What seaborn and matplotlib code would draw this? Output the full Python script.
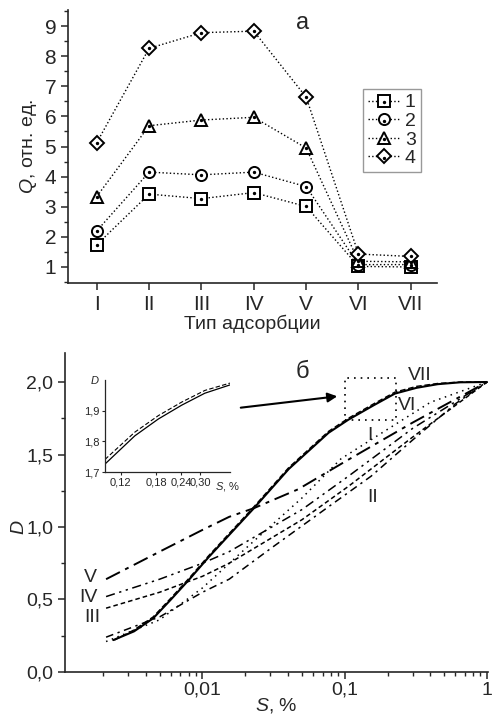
import numpy as np
import pandas as pd
import matplotlib
matplotlib.use("Agg")
import matplotlib.pyplot as plt
import seaborn as sns
from matplotlib.ticker import FuncFormatter, MultipleLocator, LogLocator, NullFormatter
from matplotlib.legend_handler import HandlerTuple
from matplotlib.patches import Rectangle

# ---- panel a: Q by adsorption type ----
types = ["I", "II", "III", "IV", "V", "VI", "VII"]
q1 = [1.74, 3.42, 3.27, 3.47, 3.01, 1.02, 1.00]
q2 = [2.20, 4.15, 4.06, 4.15, 3.67, 1.08, 1.08]
q3 = [3.34, 5.69, 5.88, 5.97, 4.95, 1.19, 1.17]
q4 = [5.13, 8.26, 8.78, 8.83, 6.64, 1.43, 1.35]
q_series = {"1": q1, "2": q2, "3": q3, "4": q4}
q_markers = {"1": "s", "2": "o", "3": "^", "4": "D"}

# ---- panel b: D vs S curves ----
s_vii = [0.00236, 0.0033, 0.0045, 0.006, 0.0081, 0.011, 0.0149, 0.023, 0.0404,
         0.077, 0.106, 0.16, 0.225, 0.32, 0.45, 0.65, 1.0]
d_vii = [0.22, 0.28, 0.37, 0.50, 0.64, 0.79, 0.93, 1.13, 1.40,
         1.65, 1.74, 1.84, 1.92, 1.96, 1.985, 1.998, 2.0]
s_vi = [0.0024, 0.0033, 0.0045, 0.006, 0.0081, 0.011, 0.0149, 0.023, 0.0404,
        0.077, 0.106, 0.16, 0.225, 0.32, 0.45, 0.65, 1.0]
d_vi = [0.22, 0.29, 0.38, 0.51, 0.65, 0.80, 0.94, 1.14, 1.41,
        1.66, 1.75, 1.85, 1.93, 1.97, 1.99, 2.0, 2.0]
s_v = [0.0021, 0.005, 0.01, 0.0154, 0.023, 0.047, 0.1, 0.3, 1.0]
d_v = [0.64, 0.83, 0.98, 1.07, 1.13, 1.26, 1.45, 1.72, 2.0]
s_iv = [0.0021, 0.005, 0.01, 0.0154, 0.05, 0.106, 0.3, 1.0]
d_iv = [0.52, 0.64, 0.75, 0.83, 1.12, 1.35, 1.68, 2.0]
s_iii = [0.0021, 0.005, 0.01, 0.0154, 0.05, 0.106, 0.3, 1.0]
d_iii = [0.44, 0.55, 0.66, 0.75, 1.05, 1.28, 1.62, 2.0]
s_ii = [0.0021, 0.005, 0.01, 0.0154, 0.03, 0.077, 0.153, 0.3, 0.6, 1.0]
d_ii = [0.24, 0.38, 0.55, 0.64, 0.85, 1.14, 1.35, 1.60, 1.85, 2.0]
s_i = [0.0021, 0.005, 0.01, 0.02, 0.05, 0.094, 0.19, 0.4, 1.0]
d_i = [0.21, 0.36, 0.58, 0.85, 1.20, 1.47, 1.66, 1.86, 2.0]

# inset (zoom of VII and VI)
s_in = [0.1, 0.141, 0.185, 0.242, 0.316, 0.422]
d_in_vii = [1.726, 1.818, 1.873, 1.918, 1.957, 1.984]
d_in_vi = [1.741, 1.830, 1.884, 1.928, 1.966, 1.990]

sns.set_style("ticks")
plt.rcParams["font.family"] = ["Liberation Sans", "DejaVu Sans"]
plt.rcParams["mathtext.fontset"] = "custom"
plt.rcParams["mathtext.it"] = "Liberation Sans:italic"
plt.rcParams["mathtext.rm"] = "Liberation Sans"
plt.rcParams["axes.linewidth"] = 1.2

comma = FuncFormatter(lambda v, p: f"{v:.1f}".replace(".", ","))

fig = plt.figure(figsize=(4.92, 7.2), dpi=100)

# ================= panel a =================
ax1 = fig.add_axes([0.1382, 0.607, 0.75, 0.379])
pos = np.arange(len(types))
handles = []
for name, vals in q_series.items():
    sns.lineplot(x=pos, y=vals, ax=ax1, color="black", linestyle=":", linewidth=1.0,
                 marker=q_markers[name], markersize=8 if name != "4" else 7.5,
                 markerfacecolor="white", markeredgecolor="black", markeredgewidth=1.4)
    line = ax1.get_lines()[-1]
    dot = ax1.scatter(pos, vals, s=2, color="black", zorder=5)
    handles.append((line, dot))

ax1.set_xlim(-0.55, 6.5)
ax1.set_ylim(0.47, 9.53)
ax1.set_xticks(pos)
ax1.set_xticklabels(types)
ax1.yaxis.set_major_locator(MultipleLocator(1))
ax1.yaxis.set_minor_locator(MultipleLocator(0.5))
ax1.tick_params(axis="both", which="major", labelsize=15, length=5, width=1.1, direction="out")
ax1.tick_params(axis="y", which="minor", length=3, width=1.0, direction="out")
ax1.set_xlabel("Тип адсорбции", fontsize=14, labelpad=1)
ax1.set_ylabel("$Q$, отн. ед.", fontsize=14, labelpad=4)
sns.despine(ax=ax1)
leg = ax1.legend(handles, list(q_series.keys()), handler_map={tuple: HandlerTuple(ndivide=1)},
                 loc="upper left", bbox_to_anchor=(0.8, 0.711), borderaxespad=0,
                 fontsize=14, frameon=True, fancybox=False, handlelength=1.6,
                 handletextpad=0.3, labelspacing=0.05, borderpad=0.25)
leg.get_frame().set_edgecolor("gray")
leg.get_frame().set_linewidth(1.0)
fig.text(303 / 492, 1 - 23 / 720, "а", fontsize=17, ha="center", va="center")

# ================= panel b =================
ax2 = fig.add_axes([0.1321, 0.0667, 0.859, 0.443])
curves = [
    ("I", s_i, d_i, (1, 3), 1.1),
    ("II", s_ii, d_ii, (5, 3, 1.5, 3), 1.1),
    ("III", s_iii, d_iii, (3, 2), 1.1),
    ("IV", s_iv, d_iv, (6, 3, 1.5, 3, 1.5, 3), 1.1),
    ("V", s_v, d_v, (8, 3, 2, 3), 1.4),
    ("VI", s_vi, d_vi, (4, 2), 1.0),
    ("VII", s_vii, d_vii, None, 1.5),
]
for name, sx, dy, dash, lw in curves:
    sns.lineplot(x=sx, y=dy, ax=ax2, color="black", linewidth=lw)
    ln = ax2.get_lines()[-1]
    if dash is not None:
        ln.set_dashes(dash)

ax2.set_xscale("log")
ax2.set_xlim(0.00108, 1.01)
ax2.set_ylim(0, 2.2)
ax2.set_xticks([0.01, 0.1, 1])
ax2.set_xticklabels(["0,01", "0,1", "1"])
ax2.xaxis.set_minor_locator(LogLocator(base=10, subs=np.arange(2, 10)))
ax2.xaxis.set_minor_formatter(NullFormatter())
ax2.yaxis.set_major_locator(MultipleLocator(0.5))
ax2.yaxis.set_minor_locator(MultipleLocator(0.25))
ax2.yaxis.set_major_formatter(comma)
ax2.tick_params(axis="both", which="major", labelsize=14, length=5, width=1.1, direction="out")
ax2.tick_params(axis="x", which="major", pad=2)
ax2.tick_params(axis="both", which="minor", length=3, width=1.0, direction="out")
ax2.set_xlabel("$S$, %", fontsize=14, labelpad=-2)
ax2.set_ylabel("$D$", fontsize=14, labelpad=2)
ax2.yaxis.set_label_coords(-0.088, 1.0 / 2.2)
sns.despine(ax=ax2)

# zoom box and arrow
ax2.add_patch(Rectangle((0.1, 1.74), 0.13, 0.29, fill=False, linestyle=(0, (1, 3)),
                        linewidth=1.2, edgecolor="black"))
ax2.annotate("", xy=(340 / 492, 1 - 396 / 720), xytext=(238 / 492, 1 - 408 / 720),
             xycoords="figure fraction", textcoords="figure fraction",
             arrowprops=dict(arrowstyle="-|>", color="black", lw=1.5, mutation_scale=14))

lab_kw = dict(fontsize=14, ha="center", va="center")
fig.text(90 / 492, 1 - 577 / 720, "V", **lab_kw)
fig.text(88 / 492, 1 - 597 / 720, "IV", **lab_kw)
fig.text(92 / 492, 1 - 618 / 720, "III", **lab_kw)
fig.text(420 / 492, 1 - 375 / 720, "VII", **lab_kw)
fig.text(407 / 492, 1 - 405 / 720, "VI", **lab_kw)
fig.text(370 / 492, 1 - 435 / 720, "I", **lab_kw)
fig.text(373 / 492, 1 - 497 / 720, "II", **lab_kw)
fig.text(302 / 492, 1 - 372 / 720, "б", fontsize=17, ha="center", va="center")

# ================= inset =================
ax3 = fig.add_axes([0.2134, 0.3444, 0.254, 0.1278])
sns.lineplot(x=s_in, y=d_in_vii, ax=ax3, color="black", linewidth=0.9)
sns.lineplot(x=s_in, y=d_in_vi, ax=ax3, color="black", linewidth=0.8)
ax3.get_lines()[-1].set_dashes((4, 2))
ax3.set_xscale("log")
ax3.set_xlim(0.1, 0.422)
ax3.set_ylim(1.7, 2.0)
ax3.set_xticks([0.12, 0.18, 0.24, 0.30])
ax3.set_xticklabels(["0,12", "0,18", "0,24", "0,30"])
ax3.xaxis.set_minor_formatter(NullFormatter())
ax3.set_yticks([1.7, 1.8, 1.9])
ax3.yaxis.set_major_formatter(comma)
ax3.tick_params(axis="both", which="major", labelsize=8, length=2.5, width=0.8, pad=1.5)
ax3.tick_params(axis="both", which="minor", length=0)
for sp in ["left", "bottom"]:
    ax3.spines[sp].set_linewidth(0.9)
sns.despine(ax=ax3)
ax3.set_facecolor("none")
ax3.text(-0.04, 1.0, "$D$", transform=ax3.transAxes, fontsize=8, ha="right", va="center")
ax3.text(0.88, -0.085, "$S$, %", transform=ax3.transAxes, fontsize=8, ha="left", va="top")

fig.savefig("out.png", dpi=100)
